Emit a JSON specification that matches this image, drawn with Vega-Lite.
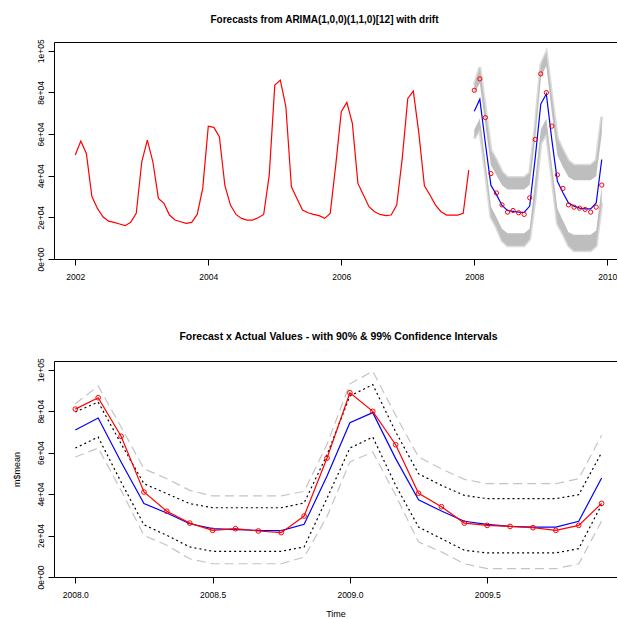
{
  "$schema": "https://vega.github.io/schema/vega-lite/v6.json",
  "autosize": {"type": "pad"},
  "padding": {"left": 12, "top": 14, "right": 0, "bottom": 0},
  "background": "white",
  "config": {
    "view": {"stroke": null},
    "font": "Liberation Sans",
    "axis": {"domainColor": "black", "tickColor": "black", "labelColor": "black", "labelFontSize": 8.5, "titleFontSize": 9, "titleFontWeight": "normal", "titleColor": "black", "grid": false, "tickSize": 6, "domainWidth": 1, "tickWidth": 1, "labelFont": "Liberation Sans", "titleFont": "Liberation Sans"},
    "title": {"fontSize": 10, "fontWeight": "bold", "font": "Liberation Sans", "color": "black", "anchor": "middle", "frame": "group", "baseline": "alphabetic"}
  },
  "datasets": {
    "hist": [
      {"t": 2002.0, "v": 49900}, {"t": 2002.0833, "v": 56600}, {"t": 2002.1667, "v": 50700}, {"t": 2002.25, "v": 30000}, {"t": 2002.3333, "v": 24300}, {"t": 2002.4167, "v": 20300}, {"t": 2002.5, "v": 18200}, {"t": 2002.5833, "v": 17600}, {"t": 2002.6667, "v": 16800}, {"t": 2002.75, "v": 16000}, {"t": 2002.8333, "v": 17600}, {"t": 2002.9167, "v": 21900},
      {"t": 2003.0, "v": 46700}, {"t": 2003.0833, "v": 57100}, {"t": 2003.1667, "v": 46700}, {"t": 2003.25, "v": 29100}, {"t": 2003.3333, "v": 26700}, {"t": 2003.4167, "v": 21100}, {"t": 2003.5, "v": 18700}, {"t": 2003.5833, "v": 17900}, {"t": 2003.6667, "v": 17100}, {"t": 2003.75, "v": 17600}, {"t": 2003.8333, "v": 21400}, {"t": 2003.9167, "v": 33900},
      {"t": 2004.0, "v": 63800}, {"t": 2004.0833, "v": 63200}, {"t": 2004.1667, "v": 58700}, {"t": 2004.25, "v": 35200}, {"t": 2004.3333, "v": 25900}, {"t": 2004.4167, "v": 21400}, {"t": 2004.5, "v": 19500}, {"t": 2004.5833, "v": 18700}, {"t": 2004.6667, "v": 18700}, {"t": 2004.75, "v": 19800}, {"t": 2004.8333, "v": 21400}, {"t": 2004.9167, "v": 40300},
      {"t": 2005.0, "v": 83500}, {"t": 2005.0833, "v": 85900}, {"t": 2005.1667, "v": 73100}, {"t": 2005.25, "v": 34700}, {"t": 2005.3333, "v": 29100}, {"t": 2005.4167, "v": 23500}, {"t": 2005.5, "v": 22200}, {"t": 2005.5833, "v": 21400}, {"t": 2005.6667, "v": 20800}, {"t": 2005.75, "v": 19500}, {"t": 2005.8333, "v": 21900}, {"t": 2005.9167, "v": 45100},
      {"t": 2006.0, "v": 70700}, {"t": 2006.0833, "v": 75200}, {"t": 2006.1667, "v": 65100}, {"t": 2006.25, "v": 36300}, {"t": 2006.3333, "v": 30700}, {"t": 2006.4167, "v": 25100}, {"t": 2006.5, "v": 22700}, {"t": 2006.5833, "v": 21400}, {"t": 2006.6667, "v": 20800}, {"t": 2006.75, "v": 21100}, {"t": 2006.8333, "v": 25900}, {"t": 2006.9167, "v": 48300},
      {"t": 2007.0, "v": 77100}, {"t": 2007.0833, "v": 80600}, {"t": 2007.1667, "v": 60300}, {"t": 2007.25, "v": 35200}, {"t": 2007.3333, "v": 30700}, {"t": 2007.4167, "v": 25900}, {"t": 2007.5, "v": 22700}, {"t": 2007.5833, "v": 21100}, {"t": 2007.6667, "v": 21100}, {"t": 2007.75, "v": 21100}, {"t": 2007.8333, "v": 21900}, {"t": 2007.9167, "v": 42700}
    ],
    "fc": [
      {"t": 2008.0, "mean": 70900, "actual": 81000, "lo90": 62200, "hi90": 79600, "lo99": 57900, "hi99": 83600},
      {"t": 2008.0833, "mean": 76700, "actual": 86500, "lo90": 67500, "hi90": 84400, "lo99": 62200, "hi99": 92100},
      {"t": 2008.1667, "mean": 55500, "actual": 67900, "lo90": 45800, "hi90": 64300, "lo99": 41800, "hi99": 72400},
      {"t": 2008.25, "mean": 35400, "actual": 41000, "lo90": 25200, "hi90": 45000, "lo99": 20100, "hi99": 52200},
      {"t": 2008.3333, "mean": 30900, "actual": 31700, "lo90": 20100, "hi90": 40200, "lo99": 15300, "hi99": 47400},
      {"t": 2008.4167, "mean": 25700, "actual": 26000, "lo90": 14500, "hi90": 35400, "lo99": 8800, "hi99": 41800},
      {"t": 2008.5, "mean": 23300, "actual": 22500, "lo90": 12400, "hi90": 33400, "lo99": 6400, "hi99": 39100},
      {"t": 2008.5833, "mean": 22900, "actual": 23300, "lo90": 12400, "hi90": 33400, "lo99": 6400, "hi99": 39100},
      {"t": 2008.6667, "mean": 22500, "actual": 22200, "lo90": 12400, "hi90": 33400, "lo99": 6400, "hi99": 39100},
      {"t": 2008.75, "mean": 22400, "actual": 21400, "lo90": 12400, "hi90": 33400, "lo99": 6400, "hi99": 39100},
      {"t": 2008.8333, "mean": 25400, "actual": 29400, "lo90": 14500, "hi90": 35700, "lo99": 9600, "hi99": 41300},
      {"t": 2008.9167, "mean": 48700, "actual": 57400, "lo90": 38000, "hi90": 59000, "lo99": 29200, "hi99": 64000},
      {"t": 2009.0, "mean": 74400, "actual": 88900, "lo90": 62200, "hi90": 87300, "lo99": 55500, "hi99": 93200},
      {"t": 2009.0833, "mean": 79300, "actual": 79900, "lo90": 67500, "hi90": 92800, "lo99": 60300, "hi99": 99200},
      {"t": 2009.1667, "mean": 57100, "actual": 63800, "lo90": 44200, "hi90": 70000, "lo99": 39400, "hi99": 78000},
      {"t": 2009.25, "mean": 37300, "actual": 40400, "lo90": 24100, "hi90": 49800, "lo99": 16900, "hi99": 57900},
      {"t": 2009.3333, "mean": 31800, "actual": 33900, "lo90": 18500, "hi90": 44200, "lo99": 12100, "hi99": 52200},
      {"t": 2009.4167, "mean": 26900, "actual": 26000, "lo90": 12900, "hi90": 39400, "lo99": 6400, "hi99": 47100},
      {"t": 2009.5, "mean": 25400, "actual": 24900, "lo90": 11600, "hi90": 37800, "lo99": 4000, "hi99": 45000},
      {"t": 2009.5833, "mean": 24400, "actual": 24400, "lo90": 11600, "hi90": 37800, "lo99": 4000, "hi99": 45000},
      {"t": 2009.6667, "mean": 24100, "actual": 23800, "lo90": 11600, "hi90": 37800, "lo99": 4000, "hi99": 45000},
      {"t": 2009.75, "mean": 24100, "actual": 22500, "lo90": 11600, "hi90": 37800, "lo99": 4000, "hi99": 45000},
      {"t": 2009.8333, "mean": 26900, "actual": 24900, "lo90": 13700, "hi90": 39700, "lo99": 6400, "hi99": 47400},
      {"t": 2009.9167, "mean": 47800, "actual": 35500, "lo90": 34900, "hi90": 60000, "lo99": 26900, "hi99": 68400}
    ]
  },
  "bounds": "flush",
  "spacing": 102,
  "vconcat": [
    {
      "width": 563,
      "height": 217,
      "title": {"text": "Forecasts from ARIMA(1,0,0)(1,1,0)[12] with drift", "offset": 14, "dx": -11},
      "resolve": {"axis": {"x": "independent"}},
      "layer": [
        {
          "data": {"name": "fc"},
          "mark": {"type": "line", "color": "#dcdcdc", "strokeWidth": 3},
          "encoding": {
            "x": {"field": "t", "type": "quantitative", "scale": {"domain": [2001.68, 2010.146], "nice": false, "zero": false},
                  "axis": {"values": [2002, 2004, 2006, 2008, 2010], "format": "d", "labelPadding": 7, "title": null}},
            "y": {"field": "hi99", "type": "quantitative", "scale": {"domain": [0, 104200], "nice": false},
                  "axis": {"values": [0, 20000, 40000, 60000, 80000, 100000], "labelExpr": "datum.value == 0 ? '0e+00' : datum.value == 100000 ? '1e+05' : (datum.value/10000) + 'e+04'", "labelAngle": -90, "labelAlign": "center", "labelBaseline": "bottom", "labelPadding": 3, "title": null}}
          }
        },
        {
          "data": {"name": "fc"},
          "mark": {"type": "line", "color": "#dcdcdc", "strokeWidth": 3},
          "encoding": {
            "x": {"field": "t", "type": "quantitative", "axis": null},
            "y": {"field": "lo99", "type": "quantitative", "title": null}
          }
        },
        {
          "data": {"name": "fc"},
          "mark": {"type": "area", "color": "#bebebe", "opacity": 1},
          "encoding": {
            "x": {"field": "t", "type": "quantitative", "axis": null},
            "y": {"field": "hi90", "type": "quantitative", "title": null},
            "y2": {"field": "hi99"}
          }
        },
        {
          "data": {"name": "fc"},
          "mark": {"type": "area", "color": "#bebebe", "opacity": 1},
          "encoding": {
            "x": {"field": "t", "type": "quantitative", "axis": null},
            "y": {"field": "lo99", "type": "quantitative", "title": null},
            "y2": {"field": "lo90"}
          }
        },
        {
          "data": {"name": "hist"},
          "mark": {"type": "line", "color": "#ff0000", "strokeWidth": 1.2},
          "encoding": {
            "x": {"field": "t", "type": "quantitative", "axis": {"orient": "top", "labels": false, "ticks": false, "domain": true, "title": null}},
            "y": {"field": "v", "type": "quantitative", "title": null}
          }
        },
        {
          "data": {"name": "fc"},
          "mark": {"type": "line", "color": "#0000ff", "strokeWidth": 1.2},
          "encoding": {
            "x": {"field": "t", "type": "quantitative", "axis": null},
            "y": {"field": "mean", "type": "quantitative", "title": null}
          }
        },
        {
          "data": {"name": "fc"},
          "mark": {"type": "point", "shape": "circle", "filled": false, "color": "#ff0000", "size": 18, "strokeWidth": 1, "opacity": 1},
          "encoding": {
            "x": {"field": "t", "type": "quantitative", "axis": null},
            "y": {"field": "actual", "type": "quantitative", "title": null}
          }
        }
      ]
    },
    {
      "width": 563,
      "height": 216,
      "title": {"text": "Forecast x Actual Values - with 90% & 99% Confidence Intervals", "offset": 15, "dx": 3, "fontSize": 10.5},
      "resolve": {"axis": {"x": "independent"}},
      "layer": [
        {
          "data": {"name": "fc"},
          "mark": {"type": "line", "color": "#c4c4c4", "strokeWidth": 1.2, "strokeDash": [9, 5]},
          "encoding": {
            "x": {"field": "t", "type": "quantitative", "scale": {"domain": [2007.9224, 2009.9727], "nice": false, "zero": false},
                  "axis": {"values": [2008, 2008.5, 2009, 2009.5], "format": ".1f", "labelPadding": 7.5, "title": "Time", "titlePadding": 10}},
            "y": {"field": "hi99", "type": "quantitative", "scale": {"domain": [0, 104200], "nice": false},
                  "axis": {"values": [0, 20000, 40000, 60000, 80000, 100000], "labelExpr": "datum.value == 0 ? '0e+00' : datum.value == 100000 ? '1e+05' : (datum.value/10000) + 'e+04'", "labelAngle": -90, "labelAlign": "center", "labelBaseline": "bottom", "labelPadding": 3, "title": "m$mean", "titlePadding": 15}}
          }
        },
        {
          "data": {"name": "fc"},
          "mark": {"type": "line", "color": "#c4c4c4", "strokeWidth": 1.2, "strokeDash": [9, 5]},
          "encoding": {
            "x": {"field": "t", "type": "quantitative", "axis": null},
            "y": {"field": "lo99", "type": "quantitative", "title": "m$mean"}
          }
        },
        {
          "data": {"name": "fc"},
          "mark": {"type": "line", "color": "#000000", "strokeWidth": 1.2, "strokeDash": [2, 3]},
          "encoding": {
            "x": {"field": "t", "type": "quantitative", "axis": null},
            "y": {"field": "hi90", "type": "quantitative", "title": "m$mean"}
          }
        },
        {
          "data": {"name": "fc"},
          "mark": {"type": "line", "color": "#000000", "strokeWidth": 1.2, "strokeDash": [2, 3]},
          "encoding": {
            "x": {"field": "t", "type": "quantitative", "axis": null},
            "y": {"field": "lo90", "type": "quantitative", "title": "m$mean"}
          }
        },
        {
          "data": {"name": "fc"},
          "mark": {"type": "line", "color": "#0000ff", "strokeWidth": 1.2},
          "encoding": {
            "x": {"field": "t", "type": "quantitative", "axis": {"orient": "top", "labels": false, "ticks": false, "domain": true, "title": null}},
            "y": {"field": "mean", "type": "quantitative", "title": "m$mean"}
          }
        },
        {
          "data": {"name": "fc"},
          "mark": {"type": "line", "color": "#ff0000", "strokeWidth": 1.2},
          "encoding": {
            "x": {"field": "t", "type": "quantitative", "axis": null},
            "y": {"field": "actual", "type": "quantitative", "title": "m$mean"}
          }
        },
        {
          "data": {"name": "fc"},
          "mark": {"type": "point", "shape": "circle", "filled": false, "color": "#ff0000", "size": 22, "strokeWidth": 1, "opacity": 1},
          "encoding": {
            "x": {"field": "t", "type": "quantitative", "axis": null},
            "y": {"field": "actual", "type": "quantitative", "title": "m$mean"}
          }
        }
      ]
    }
  ]
}
